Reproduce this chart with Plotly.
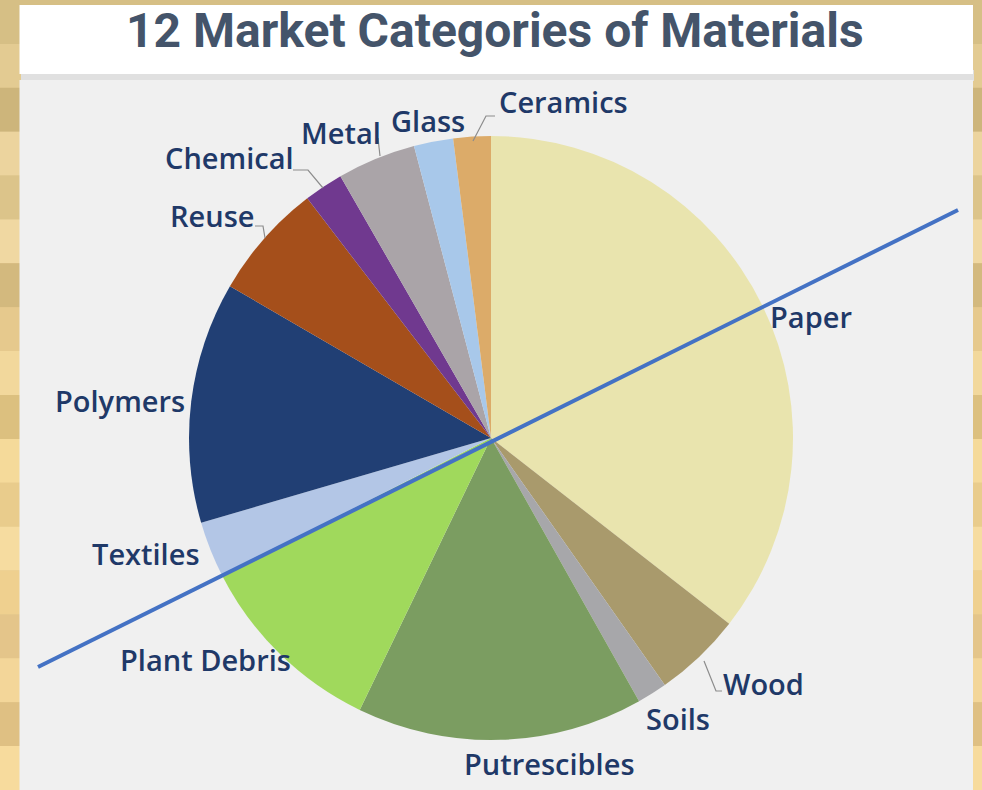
import plotly.graph_objects as go

# ---- data ----
categories = ["Paper", "Wood", "Soils", "Putrescibles", "Plant Debris", "Textiles",
              "Polymers", "Reuse", "Chemical", "Metal", "Glass", "Ceramics"]
shares = [35.5, 4.7, 1.6, 15.3, 10.3, 3.0, 12.9, 6.2, 2.1, 4.2, 2.1, 2.0]
colors = ["#e9e4ae", "#a99a6c", "#a7a7aa", "#7b9d61", "#a0d95c", "#b3c6e6",
          "#213f74", "#a54f1b", "#70398f", "#aaa4a8", "#a8c8ea", "#dcab69"]
title_text = "12 Market Categories of Materials"

W, H = 982, 790


def px(x):
    return x / W


def py(y):
    return 1 - y / H


# pie geometry (pixels)
cx, cy, r = 491, 438, 302

fig = go.Figure()
fig.add_trace(go.Pie(
    labels=categories, values=shares, sort=False, direction="clockwise", rotation=0,
    marker=dict(colors=colors, line=dict(width=0)),
    textinfo="none", hoverinfo="label+percent", showlegend=False,
    domain=dict(x=[px(cx - r), px(cx + r)], y=[py(cy + r), py(cy - r)]),
))

shapes = []
# golden textured background stripes
gold = ["#d6bf85", "#e3cb92", "#cdb57b", "#ecd49e", "#dcc48a", "#f0d8a2", "#d3b97e",
        "#e6c98d", "#f2d89c", "#dcc07f", "#f5da9a", "#e9cc8c", "#f6dca0", "#efd08f",
        "#e4c58a", "#f3d699", "#dfc083", "#f7db9d"]
n = len(gold)
for i, c in enumerate(gold):
    shapes.append(dict(type="rect", xref="paper", yref="paper", x0=0, x1=1,
                       y0=py((i + 1) * H / n), y1=py(i * H / n),
                       fillcolor=c, line=dict(width=0), layer="below"))
# title box shadow
for k, c in enumerate(["#8f8f8f", "#acacac", "#c8c8c8", "#e0e0e0"]):
    shapes.append(dict(type="rect", xref="paper", yref="paper", x0=px(21), x1=px(974),
                       y0=py(75 + k * 2), y1=py(70), fillcolor=c, line=dict(width=0), layer="below"))
# gray panel
shapes.append(dict(type="rect", xref="paper", yref="paper", x0=px(19.5), x1=px(973),
                   y0=0, y1=py(80), fillcolor="#f0f0f0", line=dict(width=0), layer="below"))
# white title box
shapes.append(dict(type="rect", xref="paper", yref="paper", x0=px(19.5), x1=px(973),
                   y0=py(74), y1=py(5), fillcolor="#ffffff", line=dict(width=0), layer="below"))

# leader lines
leaders = [
    [(473, 141), (486, 116), (495, 116)],   # Ceramics
    [(380, 156), (378, 138)],               # Metal
    [(323, 188), (308, 170), (293, 170)],   # Chemical
    [(265, 238), (263, 226), (255, 226)],   # Reuse
    [(704, 661), (716, 691), (722, 691)],   # Wood
]
for pts in leaders:
    path = "M " + " L ".join(f"{px(x)},{py(y)}" for x, y in pts)
    shapes.append(dict(type="path", xref="paper", yref="paper", path=path,
                       line=dict(color="#8c8c8c", width=1.2)))

# blue diagonal line
shapes.append(dict(type="line", xref="paper", yref="paper",
                   x0=px(38), y0=py(667), x1=px(958), y1=py(210),
                   line=dict(color="#4472c4", width=4), layer="above"))

# label positions (pixel centres)
label_pos = {
    "Paper": (811, 316), "Wood": (763, 683), "Soils": (678, 718),
    "Putrescibles": (549, 763), "Plant Debris": (205, 659), "Textiles": (146, 553),
    "Polymers": (120, 400), "Reuse": (212, 215), "Chemical": (229, 158),
    "Metal": (341, 132), "Glass": (428, 120), "Ceramics": (563, 101),
}
annotations = []
for name in categories:
    x, y = label_pos[name]
    annotations.append(dict(x=px(x), y=py(y), xref="paper", yref="paper", text=name,
                            showarrow=False, xanchor="center", yanchor="middle",
                            font=dict(family="Open Sans", size=29, color="#1f3968", weight=600)))
annotations.append(dict(x=px(495), y=py(31), xref="paper", yref="paper", text=f"<b>{title_text}</b>",
                        showarrow=False, xanchor="center", yanchor="middle",
                        font=dict(family="Roboto", size=48, color="#44546a")))

fig.update_layout(
    width=W, height=H, margin=dict(l=0, r=0, t=0, b=0),
    paper_bgcolor="#e2c98e", plot_bgcolor="rgba(0,0,0,0)",
    shapes=shapes, annotations=annotations,
)

fig.write_html("out.html", config={"displayModeBar": False},
               post_script="document.body.style.margin='0';")
